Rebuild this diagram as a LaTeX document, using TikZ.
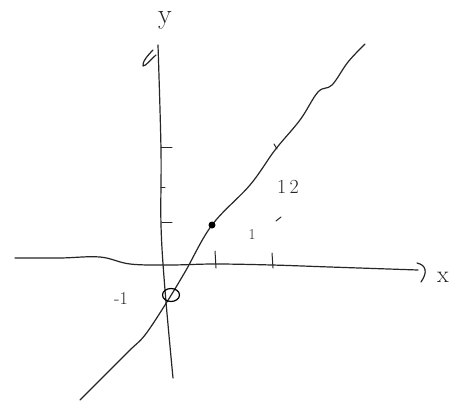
\documentclass[tikz,border=0pt]{standalone}
\usetikzlibrary{shapes.geometric}
\begin{document}
\begin{tikzpicture}[x=1pt,y=-1pt,
  pen/.style={line width=1.2pt,line cap=round,line join=round,black!85},
  thin pen/.style={line width=1pt,line cap=round,black!85},
  lbl/.style={inner sep=0pt,black!85}]
\useasboundingbox[fill=white] (0,0) rectangle (453,400);
% x axis
\draw[pen] plot[smooth,tension=0.6] coordinates {(15,258) (60,258) (100,257) (130,264) (170,265) (215,264) (272,265) (330,267) (418,270)};
\draw[pen] (417,263) .. controls (426,265) and (428,272) .. (421,282);
% y axis
\draw[pen] plot[smooth,tension=0.6] coordinates {(158,45) (161,150) (161,225) (165,290) (173,378)};
\draw[pen] (153,50) .. controls (148,55) and (142,62) .. (143,66) .. controls (146,66) and (150,60) .. (156,55);
% ticks
\draw[thin pen] (161,147) -- (172,147);
\draw[thin pen] (161,187) -- (165,187);
\draw[thin pen] (162,222) -- (172,222);
\draw[thin pen] (215,251) -- (216,268);
\draw[thin pen] (272,253) -- (273,268);
\draw[thin pen] (274,144) -- (277,149);
\draw[thin pen] (276,221) -- (281,217);
% line
\draw[pen] plot[smooth,tension=0.6] coordinates {(80,400) (110,370) (130,350) (145,335) (165,305) (185,272) (212,225) (250,185) (275,150) (300,120) (318,92) (332,85) (348,62) (365,44)};
% point and open circle
\node[circle,fill=black,inner sep=0pt,minimum size=7pt] (pt) at (212,225) {};
\node[ellipse,draw,line width=1.2pt,inner sep=0pt,minimum width=17pt,minimum height=13pt] (hole) at (171,295) {};
% labels
\node[lbl,font=\fontsize{28}{30}\selectfont] (ylab) at (165,20) {y};
\node[lbl,font=\fontsize{24}{28}\selectfont] (xlab) at (443,277) {x};
\node[lbl,font=\fontsize{20}{24}\selectfont] (one2) at (288,187) {1\,2};
\node[lbl,font=\fontsize{15}{18}\selectfont] (one) at (252,235) {1};
\node[lbl,font=\fontsize{18}{20}\selectfont] (m1) at (121,299) {-1};
\end{tikzpicture}
\end{document}
